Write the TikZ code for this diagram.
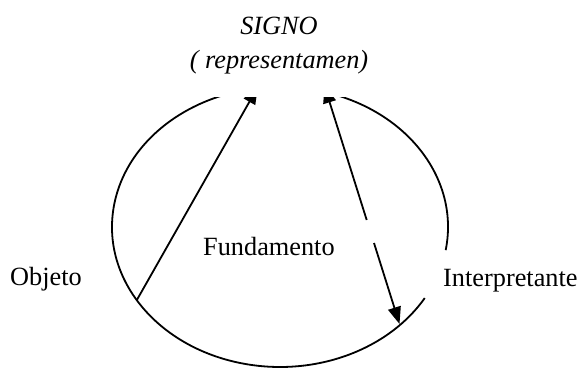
\documentclass[tikz,border=0pt]{standalone}
\usepackage{fontspec}
\setmainfont{Liberation Serif}
\usetikzlibrary{arrows.meta,calc}
\begin{document}
\begin{tikzpicture}[x=1pt,y=1pt,
  line/.style={line width=1.8pt},
  tip/.style={-{Triangle[length=17pt,width=13pt]}},
  lbl/.style={inner sep=0pt,font=\fontsize{26.3}{34}\selectfont}]
\useasboundingbox (0,0) rectangle (581,368);
% named points
\coordinate (C) at (280,141);
\coordinate (objpt) at (136.8,67.9);
\coordinate (signoL) at (257.8,281);
\coordinate (signoR) at (324.5,282);
\coordinate (interpt) at (399.5,44);
\coordinate (gapA) at (366.7,148);
\coordinate (gapB) at (374.0,125);
\begin{scope}
  \clip (0,0) rectangle (581,271);
  % ellipse, open at the right where the label sits
  \draw[line] ($(C)+({168*cos(-9.5)},{140*sin(-9.5)})$) arc[start angle=-9.5,end angle=329.5,x radius=168,y radius=140];
  \draw[line,tip] (objpt) -- (signoL);
  \draw[line,tip] (gapA) -- (signoR);
\end{scope}
\draw[line,tip] (gapB) -- (interpt);
% labels
\node[lbl,anchor=base,align=center] (signo) at (279,300) {\itshape SIGNO\\\itshape ( representamen)};
\node[lbl,anchor=base west] (fund) at (203,113) {Fundamento};
\node[lbl,anchor=base west] (obj) at (10,83) {Objeto};
\node[lbl,anchor=base west] (interp) at (443,82) {Interpretante};
\end{tikzpicture}
\end{document}
